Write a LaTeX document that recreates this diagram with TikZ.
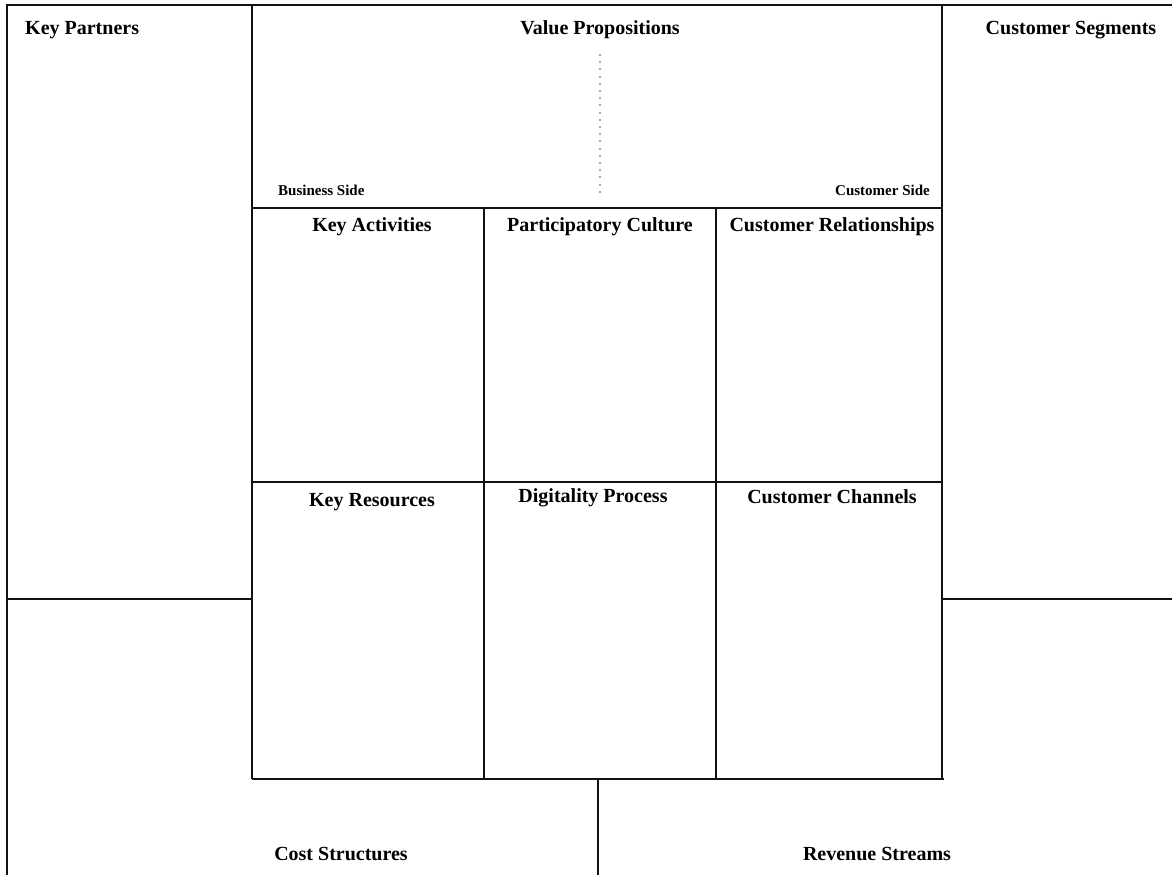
\documentclass[tikz,border=0pt]{standalone}
\usepackage{fontspec}
\setmainfont{Liberation Serif}
\begin{document}
\begin{tikzpicture}[x=1pt,y=-1pt,
  frame/.style={line width=2pt,draw=black!93},
  guide/.style={line width=2pt,draw=black!33,dash pattern=on 2pt off 5.2pt},
  head/.style={font=\fontsize{20}{24}\selectfont\bfseries,inner sep=0pt,anchor=base},
  side/.style={font=\fontsize{15}{18}\selectfont\bfseries,inner sep=0pt,anchor=base}]
\useasboundingbox (0,0) rectangle (1172,875);
\fill[white] (0,0) rectangle (1172,875);

% outer frame and main columns
\draw[frame] (1172,5) -- (7,5) -- (7,875);
\draw[frame] (252,5) -- (252,779);
\draw[frame] (942,5) -- (942,779);
\draw[frame] (7,599) -- (253,599);
\draw[frame] (942,599) -- (1172,599);

% central grid
\draw[frame] (252,208) -- (942,208);
\draw[frame] (252,482) -- (942,482);
\draw[frame] (252,779) -- (944,779);
\draw[frame] (484,208) -- (484,779);
\draw[frame] (716,208) -- (716,779);

% split of the bottom band
\draw[frame] (598,779) -- (598,875);

% divider inside the value propositions
\draw[guide] (600,54) -- (600,198);

% block titles
\node[head,anchor=base west] (kp) at (25,35) {Key Partners};
\node[head] (vp) at (600,35) {Value Propositions};
\node[head] (cs) at (1071,35) {Customer Segments};
\node[side,anchor=base west] (bs) at (278,195) {Business Side};
\node[side,anchor=base east] (cus) at (930,195) {Customer Side};
\node[head] (ka) at (372,231) {Key Activities};
\node[head] (pc) at (600,231) {Participatory Culture};
\node[head] (cr) at (832,231) {Customer Relationships};
\node[head] (kr) at (372,506) {Key Resources};
\node[head] (dp) at (593,502) {Digitality Process};
\node[head] (cc) at (832,503) {Customer Channels};
\node[head] (cost) at (341,860) {Cost Structures};
\node[head] (rev) at (877,860) {Revenue Streams};
\end{tikzpicture}
\end{document}
